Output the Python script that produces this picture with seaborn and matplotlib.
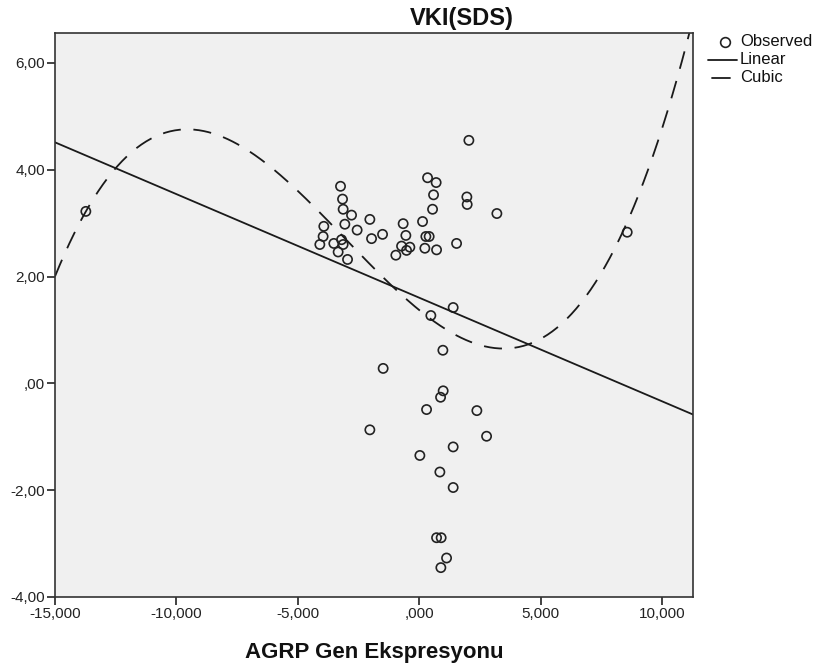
import numpy as np
import pandas as pd
import matplotlib
matplotlib.use("Agg")
import matplotlib.pyplot as plt
import seaborn as sns
from matplotlib.ticker import FuncFormatter, FixedLocator
from matplotlib.lines import Line2D

# AGRP gene expression (x) and VKI(SDS) (y)
agrp = [2.048, 0.346, 0.700, 0.593, 0.552, 1.965, 1.978, 3.201,
        -3.239, -3.156, -3.131, -2.785, -3.061, -3.927, -2.031, -2.555, -3.956,
        -3.197, -4.091, -3.515, -3.131, -3.337, -2.950, -1.961, -1.508,
        -0.659, 0.140, -0.548, 0.276, 0.412, 1.541, -0.725, -0.383, -0.519,
        0.235, 0.717, -0.960,
        1.401, 0.482, 0.977, 0.989, 0.882, 0.305, 2.377, 2.777, 1.401, 0.029,
        0.853, 1.401, 0.717, 0.906, 1.129, 0.894, -1.483, -2.031,
        -13.73, 8.570]
vki = [4.55, 3.85, 3.76, 3.53, 3.26, 3.49, 3.35, 3.18,
       3.69, 3.45, 3.26, 3.15, 2.98, 2.94, 3.07, 2.87, 2.75,
       2.69, 2.60, 2.62, 2.60, 2.46, 2.32, 2.71, 2.79,
       2.99, 3.03, 2.77, 2.75, 2.75, 2.62, 2.57, 2.55, 2.49,
       2.53, 2.50, 2.40,
       1.42, 1.27, 0.62, -0.14, -0.26, -0.49, -0.51, -0.99, -1.19, -1.35,
       -1.66, -1.95, -2.89, -2.89, -3.27, -3.45, 0.28, -0.87,
       3.22, 2.83]

legend_labels = ["Observed", "Linear", "Cubic"]
x_ticks = [-15, -10, -5, 0, 5, 10]
y_ticks = [-4, -2, 0, 2, 4, 6]
x_lim = (-15, 11.28)
y_lim = (-4, 6.56)

df = pd.DataFrame({"x": agrp, "y": vki})

sns.set_theme(style="white")
plt.rcParams["font.family"] = ["Liberation Sans", "DejaVu Sans"]

W, H = 819, 666
fig = plt.figure(figsize=(W/100, H/100), dpi=100)
ax = fig.add_axes([55/W, 69/H, (693-55)/W, (597-33)/H])
ax.set_facecolor("#f0f0f0")

# fits
xs = np.linspace(x_lim[0], x_lim[1], 400)
lin = np.polyfit(df.x, df.y, 1)
cub = np.polyfit(df.x, df.y, 3)
fit = pd.DataFrame({"x": xs, "lin": np.polyval(lin, xs), "cub": np.polyval(cub, xs)})

sns.lineplot(data=fit, x="x", y="lin", ax=ax, color="#1a1a1a", lw=1.3)
sns.lineplot(data=fit, x="x", y="cub", ax=ax, color="#1a1a1a", lw=1.3,
             dashes=False).lines[-1].set_dashes((10, 7))
sns.scatterplot(data=df, x="x", y="y", ax=ax, marker="o", s=44,
                facecolor="none", edgecolor="#222222", linewidth=1.2)

ax.set_xlim(*x_lim)
ax.set_ylim(*y_lim)

def fmt(dec):
    def f(v, pos):
        s = f"{v:.{dec}f}".replace(".", ",")
        if s.startswith("-0,"):
            s = "-" + s[2:]
        if s.startswith("0,"):
            s = s[1:]
        return s
    return FuncFormatter(f)

ax.xaxis.set_major_locator(FixedLocator(x_ticks))
ax.yaxis.set_major_locator(FixedLocator(y_ticks))
ax.xaxis.set_major_formatter(fmt(3))
ax.yaxis.set_major_formatter(fmt(2))
ax.tick_params(axis="both", which="major", direction="out", length=6, width=1.2,
               color="#222222", labelsize=11, labelcolor="#222222",
               bottom=True, left=True, pad=1)
for sp in ax.spines.values():
    sp.set_color("#333333")
    sp.set_linewidth(1.2)

ax.set_xlabel("AGRP Gen Ekspresyonu", fontsize=16, fontweight="bold", labelpad=15,
              color="#111111")
ax.set_ylabel("")
fig.text(462/W, 1 - 18/H, "VKI(SDS)", ha="center", va="center",
         fontsize=17, fontweight="bold", color="#111111")

# legend (drawn manually, SPSS style)
def fx(px):
    return px / W
def fy(py):
    return 1 - py / H

fig.add_artist(Line2D([fx(725)], [fy(42)], marker="o", ls="none",
                      markerfacecolor="none", markeredgecolor="#222222",
                      markersize=7, markeredgewidth=1.2))
fig.add_artist(Line2D([fx(708), fx(737)], [fy(60), fy(60)], color="#1a1a1a", lw=1.3))
fig.add_artist(Line2D([fx(712), fx(730)], [fy(78), fy(78)], color="#1a1a1a", lw=1.3))
for lab, py in zip(legend_labels, [42, 60, 78]):
    fig.text(fx(740), fy(py), lab, ha="left", va="center", fontsize=12,
             color="#111111")

fig.savefig("out.png", dpi=100)
